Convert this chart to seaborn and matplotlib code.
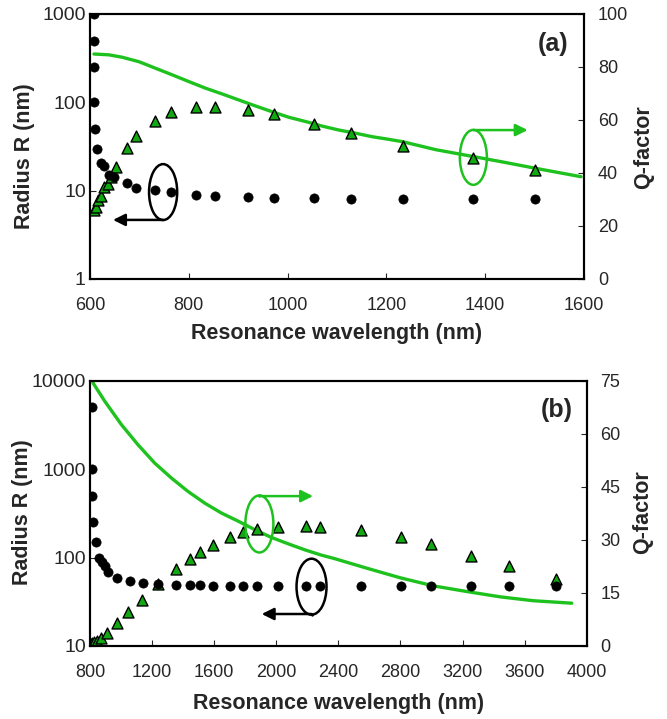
import matplotlib
matplotlib.use("Agg")
import matplotlib.pyplot as plt
from matplotlib.patches import Ellipse
import seaborn as sns

# ---------------- data: panel (a) ----------------
circ_wl_a = [608, 608, 608, 609, 610, 615, 622, 629, 639, 649, 674, 694, 731, 763,
             815, 854, 919, 973, 1054, 1128, 1233, 1376, 1501]
circ_R_a = [1000, 500, 250, 100, 50, 30, 20.4, 18.8, 15.1, 14.4, 12.1, 10.8, 10.1, 9.6,
            8.9, 8.6, 8.4, 8.3, 8.2, 8.0, 8.0, 8.0, 8.0]
tri_wl_a = [609, 612, 616, 622, 629, 636, 643, 653, 675, 694, 732, 763, 815, 854,
            919, 973, 1054, 1128, 1233, 1376, 1501]
tri_Q_a = [26, 27.3, 29.8, 31.5, 34.8, 36, 38.6, 42.4, 49.3, 54, 59.6, 62.9, 65, 65,
           63.8, 62.1, 58.5, 55.2, 50.3, 45.8, 41.1]
line_wl_a = [608, 638, 665, 699, 733, 767, 800, 834, 868, 902, 935, 969, 1003, 1037,
             1070, 1104, 1138, 1171, 1205, 1233, 1300, 1376, 1440, 1501, 1594]
line_Q_a = [84.9, 84.6, 83.7, 82.0, 79.5, 77.0, 74.5, 72.0, 69.8, 67.5, 65.3, 63.1,
            61.0, 59.4, 57.7, 56.2, 55.0, 53.7, 52.7, 51.8, 48.8, 46.2, 44.0, 41.8, 38.6]

# ---------------- data: panel (b) ----------------
circ_wl_b = [811, 811, 815, 821, 837, 860, 875, 897, 918, 972, 1058, 1140, 1240, 1354,
             1444, 1509, 1591, 1702, 1784, 1878, 2013, 2192, 2282, 2544, 2804, 2997,
             3255, 3502, 3803]
circ_R_b = [5000, 1000, 500, 250, 150, 100, 90, 80, 69, 59, 54, 51, 50, 49,
            48.5, 48.5, 48, 48, 48, 48, 48, 48, 48, 47.7, 47.7, 47.7, 47.7, 47.7, 47.7]
tri_wl_b = [805, 811, 825, 843, 871, 908, 972, 1047, 1133, 1240, 1354, 1444, 1509, 1591,
            1702, 1784, 1878, 2013, 2192, 2282, 2544, 2804, 2997, 3255, 3502, 3803]
tri_Q_b = [0.5, 0.75, 1.0, 1.5, 2.2, 3.8, 6.4, 9.6, 13.1, 17.4, 21.7, 24.5, 26.7, 28.6,
           30.9, 32.1, 33.1, 33.7, 34, 33.7, 32.8, 30.7, 28.7, 25.5, 22.7, 18.9]
line_wl_b = [819, 895, 1002, 1109, 1217, 1324, 1431, 1539, 1646, 1754, 1861, 1968,
             2076, 2183, 2290, 2368, 2583, 2797, 3012, 3227, 3442, 3656, 3904]
line_Q_b = [74.4, 69.2, 62.6, 56.9, 51.7, 47.5, 43.7, 40.4, 37.6, 35.3, 32.9, 30.7,
            28.9, 27.2, 25.7, 24.8, 22.0, 19.3, 17.0, 15.4, 13.9, 12.8, 12.1]

xticks_a = [600, 800, 1000, 1200, 1400, 1600]
yticks_a = [1, 10, 100, 1000]
qticks_a = [0, 20, 40, 60, 80, 100]
xticks_b = [800, 1200, 1600, 2000, 2400, 2800, 3200, 3600, 4000]
yticks_b = [10, 100, 1000, 10000]
qticks_b = [0, 15, 30, 45, 60, 75]

xlabel = "Resonance wavelength (nm)"
ylabel = "Radius R (nm)"
qlabel = "Q-factor"

# ---------------- style ----------------
sns.set_style("ticks")
plt.rcParams['font.family'] = ['Liberation Sans', 'DejaVu Sans']
plt.rcParams['axes.linewidth'] = 1.5

GREEN_LINE = '#1ec21e'
GREEN_TRI = '#12a812'

fig = plt.figure(figsize=(6.67, 7.19), dpi=100)
axA = fig.add_axes([90 / 667, 1 - 279 / 719, 494 / 667, 265 / 719])
axB = fig.add_axes([90 / 667, 1 - 646 / 719, 496.7 / 667, 265.3 / 719])


def panel(ax, cw, cr, tw, tq, lw_, lq, xt, yt, qt, xlim, ylim, qlim, tag, lab):
    ax2 = ax.twinx()
    sns.scatterplot(x=cw, y=cr, ax=ax, color='black', s=44, edgecolor='black',
                    linewidth=0.5, marker='o', zorder=3)
    sns.lineplot(x=lw_, y=lq, ax=ax2, color=GREEN_LINE, linewidth=2.4, zorder=2,
                 sort=False)
    sns.scatterplot(x=tw, y=tq, ax=ax2, color=GREEN_TRI, s=62, marker='^',
                    edgecolor='black', linewidth=1.0, zorder=4)
    ax.set_yscale('log')
    ax.set_xlim(*xlim)
    ax.set_ylim(*ylim)
    ax2.set_ylim(*qlim)
    ax.set_xticks(xt)
    ax.set_xticklabels([str(v) for v in xt])
    ax.set_yticks(yt)
    ax.set_yticklabels([str(v) for v in yt])
    ax.minorticks_off()
    ax2.set_yticks(qt)
    ax2.set_yticklabels([str(v) for v in qt])
    ax.tick_params(axis='x', direction='in', length=4, width=0.8, labelsize=13, pad=13,
                   top=False)
    ax.tick_params(axis='y', direction='in', length=4, width=0.8, labelsize=14, pad=3)
    ax2.tick_params(axis='y', direction='in', length=4, width=0.8, labelsize=13, pad=10)
    for a in (ax, ax2):
        for s in a.spines.values():
            s.set_visible(True)
            s.set_linewidth(1.5)
            s.set_color('black')
    ax.set_zorder(ax2.get_zorder() + 1)
    ax.patch.set_visible(False)
    ax.set_xlabel(xlabel, fontsize=15.5, fontweight='bold', va='center')
    ax.set_ylabel(ylabel, fontsize=15.5, fontweight='bold', va='center')
    ax2.set_ylabel(qlabel, fontsize=15.5, fontweight='bold', va='center')
    ax.xaxis.set_label_coords(0.5, lab[0])
    ax.yaxis.set_label_coords(lab[1], lab[2])
    ax2.yaxis.set_label_coords(lab[3], lab[4])
    ax.text(tag[0], tag[1], tag[2], transform=ax.transAxes, fontsize=18,
            fontweight='bold', ha='center', va='center')
    return ax2


axA2 = panel(axA, circ_wl_a, circ_R_a, tri_wl_a, tri_Q_a, line_wl_a, line_Q_a,
             xticks_a, yticks_a, qticks_a, (600, 1600), (1, 1000), (0, 100),
             (0.937, 0.886, '(a)'), (-0.204, -0.1316, 0.464, 1.121, 0.498))
axB2 = panel(axB, circ_wl_b, circ_R_b, tri_wl_b, tri_Q_b, line_wl_b, line_Q_b,
             xticks_b, yticks_b, qticks_b, (800, 4000), (10, 10000), (0, 75),
             (0.94, 0.888, '(b)'), (-0.215, -0.135, 0.506, 1.113, 0.506))


def ellipse_arrow(ax, cx, cy, w, h, color, y_from, x_to):
    e = Ellipse((cx, cy), w, h, transform=ax.transAxes, fill=False, edgecolor=color,
                linewidth=1.8, zorder=6)
    ax.add_patch(e)
    ax.plot([cx, cx], [cy - h / 2 if y_from < cy else cy + h / 2, y_from],
            transform=ax.transAxes, color=color, lw=1.8, zorder=6)
    ax.annotate('', xy=(x_to, y_from), xytext=(cx, y_from), xycoords='axes fraction',
                textcoords='axes fraction',
                arrowprops=dict(arrowstyle='-|>', color=color, lw=1.8,
                                mutation_scale=18, shrinkA=0, shrinkB=0), zorder=6)


ellipse_arrow(axA, 0.148, 0.328, 0.057, 0.211, 'black', 0.223, 0.0466)
ellipse_arrow(axA, 0.776, 0.459, 0.0547, 0.2075, GREEN_LINE, 0.562, 0.886)
ellipse_arrow(axB, 0.341, 0.460, 0.0564, 0.215, GREEN_LINE, 0.565, 0.449)
ellipse_arrow(axB, 0.446, 0.2235, 0.0604, 0.211, 'black', 0.1206, 0.3457)

fig.savefig('out.png', dpi=100)
